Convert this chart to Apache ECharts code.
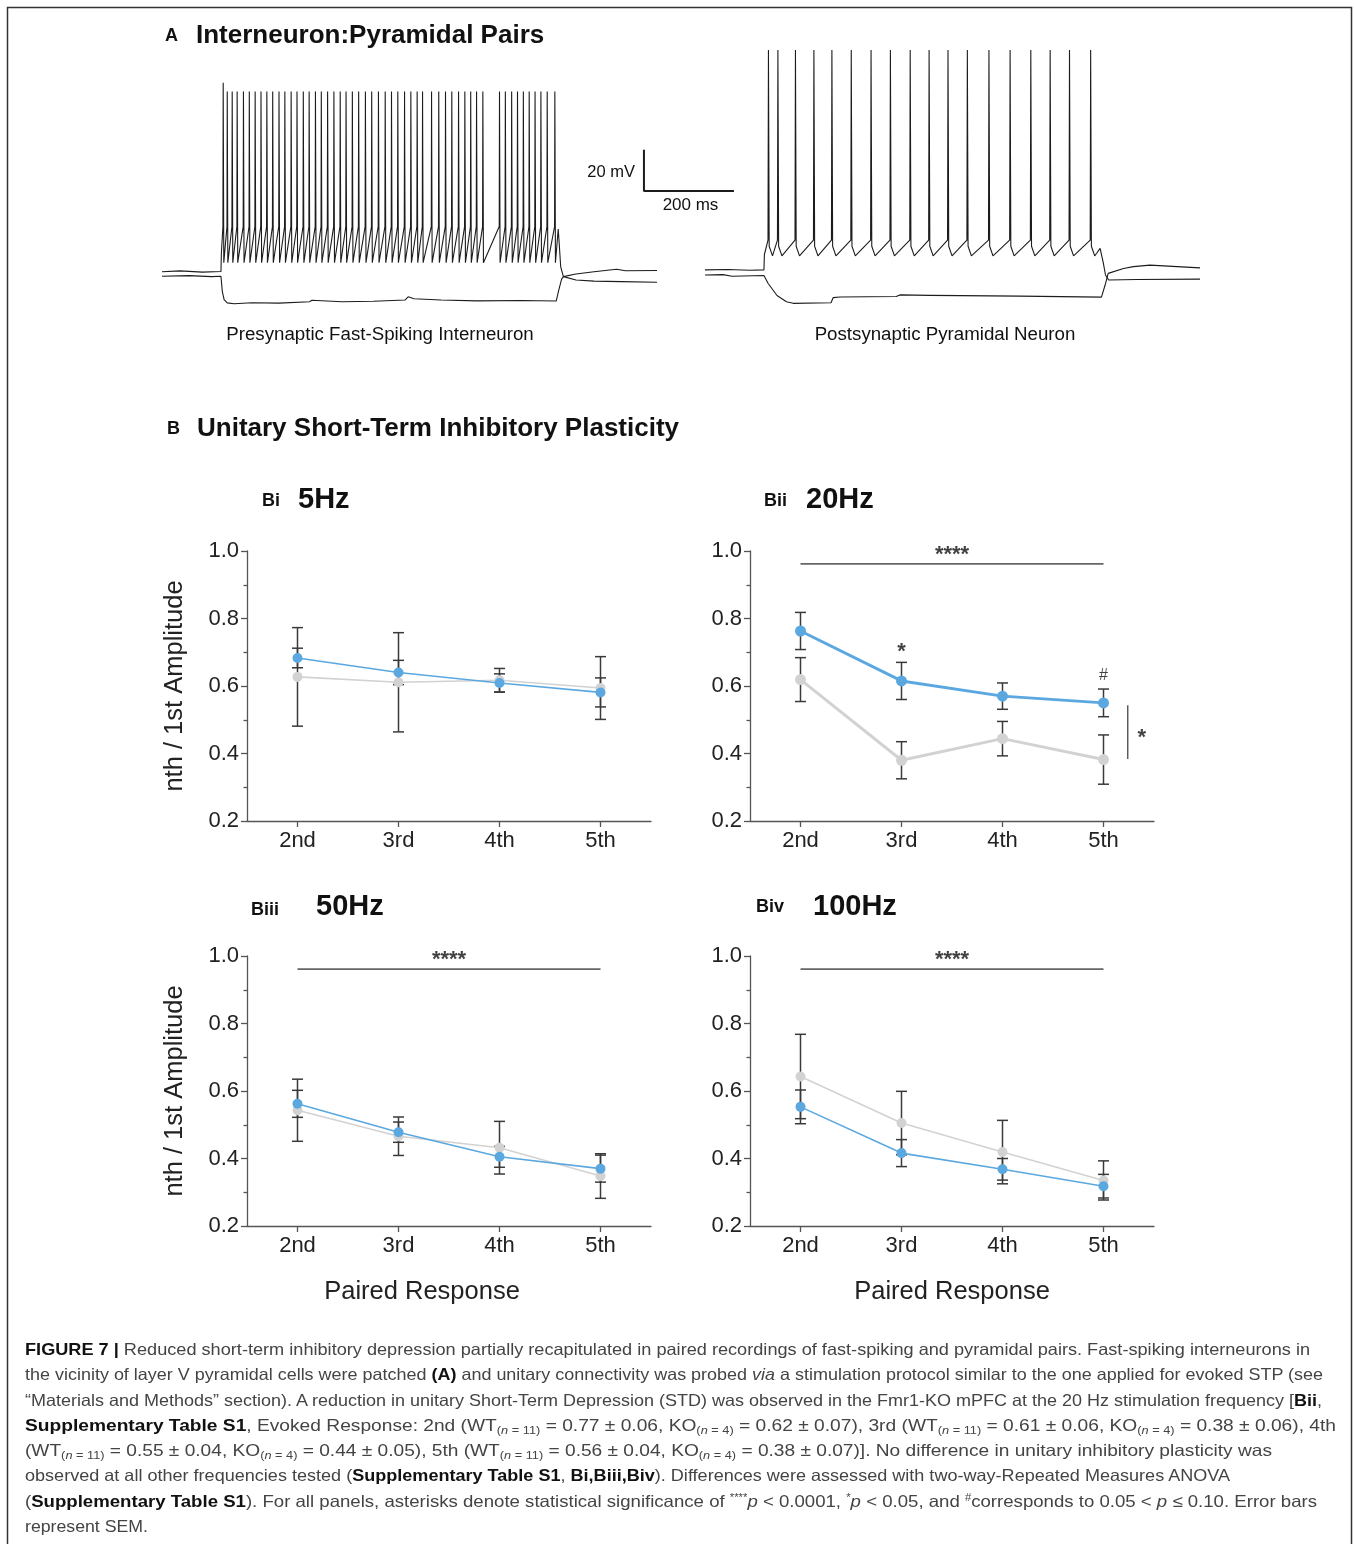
<!DOCTYPE html>
<html>
<head>
<meta charset="utf-8">
<title>Figure 7</title>
<script src="https://cdn.jsdelivr.net/npm/echarts@6/dist/echarts.min.js"></script>
<style>
  body { margin: 0; background: #fff; }
  #wrap { position: relative; width: 1354px; height: 1544px; overflow: hidden; }
  #chart { position: absolute; left: 0; top: 0; width: 1354px; height: 1544px; }
  #caption { position: absolute; left: 25px; top: 1337px; font-family: "Liberation Sans", Arial, sans-serif;
             font-size: 16.5px; line-height: 25.3px; color: #444; }
  #caption .ln { display: inline-block; white-space: nowrap; transform-origin: 0 50%; }
  #caption b { color: #111; }
  #caption sub { font-size: 11px; vertical-align: -3px; line-height: 0; }
  #caption sup { font-size: 10px; vertical-align: 6px; line-height: 0; }
</style>
</head>
<body>
<div id="wrap">
  <div id="chart"></div>
  <div id="caption">
    <div><span class="ln"><b>FIGURE 7 |</b> Reduced short-term inhibitory depression partially recapitulated in paired recordings of fast-spiking and pyramidal pairs. Fast-spiking interneurons in</span></div>
    <div><span class="ln">the vicinity of layer V pyramidal cells were patched <b>(A)</b> and unitary connectivity was probed <i>via</i> a stimulation protocol similar to the one applied for evoked STP (see</span></div>
    <div><span class="ln">“Materials and Methods” section). A reduction in unitary Short-Term Depression (STD) was observed in the Fmr1-KO mPFC at the 20 Hz stimulation frequency [<b>Bii</b>,</span></div>
    <div><span class="ln"><b>Supplementary Table S1</b>, Evoked Response: 2nd (WT<sub>(<i>n</i> = 11)</sub> = 0.77 ± 0.06, KO<sub>(<i>n</i> = 4)</sub> = 0.62 ± 0.07), 3rd (WT<sub>(<i>n</i> = 11)</sub> = 0.61 ± 0.06, KO<sub>(<i>n</i> = 4)</sub> = 0.38 ± 0.06), 4th</span></div>
    <div><span class="ln">(WT<sub>(<i>n</i> = 11)</sub> = 0.55 ± 0.04, KO<sub>(<i>n</i> = 4)</sub> = 0.44 ± 0.05), 5th (WT<sub>(<i>n</i> = 11)</sub> = 0.56 ± 0.04, KO<sub>(<i>n</i> = 4)</sub> = 0.38 ± 0.07)]. No difference in unitary inhibitory plasticity was</span></div>
    <div><span class="ln">observed at all other frequencies tested (<b>Supplementary Table S1</b>, <b>Bi,Biii,Biv</b>). Differences were assessed with two-way-Repeated Measures ANOVA</span></div>
    <div><span class="ln">(<b>Supplementary Table S1</b>). For all panels, asterisks denote statistical significance of <sup>****</sup><i>p</i> &lt; 0.0001, <sup>*</sup><i>p</i> &lt; 0.05, and <sup>#</sup>corresponds to 0.05 &lt; <i>p</i> ≤ 0.10. Error bars</span></div>
    <div><span class="ln">represent SEM.</span></div>
  </div>
</div>
<script>
var FONT = '"Liberation Sans", Arial, Helvetica, sans-serif';

// ---- panel A: traces (time in ms, voltage in mV)
var stepOn = 131, stepOff = 882;
var fsSpikes = [136, 145, 156, 167, 181, 194, 207, 220, 233, 246, 260, 273, 287, 300, 314, 327, 341, 354,
                368, 382, 396, 409, 423, 437, 452, 466, 481, 496, 510, 524, 539, 553, 567, 579,
                599, 615, 630, 644, 659, 673, 686, 699, 713,
                750, 763, 777, 790, 803, 816, 829, 842, 856, 873];
var fsPre = [[0, -64.4], [40, -64.0], [90, -64.6], [131, -64.3]];
var fsPost = [[876, -60], [880.5, -43.6], [882.5, -50], [886, -62], [892, -66.8], [920, -68.4],
              [960, -69], [1020, -69.2], [1100, -69.5]];
var fsHyper = [[0, -66.6], [60, -66.3], [110, -66.8], [131, -66.6], [134, -74], [138, -78], [145, -79.6],
               [160, -80], [200, -79.5], [260, -79.7], [328, -79], [333, -78.3], [400, -79], [470, -78.8],
               [540, -78.2], [547, -76.6], [560, -77.6], [620, -78.2], [700, -78.6], [800, -78.4],
               [876, -78.7], [881, -74], [888, -68], [892, -66.8], [920, -65.5], [960, -64.4],
               [1000, -63.4], [1010, -63.2], [1030, -63.9], [1100, -63.8]];
var fsShape = { onset: -55, thresh: -42.4, peak: 23.4, first: 27.7, trough: -60, rise: 0.6, fall: 1.3 };

var pyrSpikes = [141, 162, 201, 242, 282, 325, 369, 412, 456, 498, 540, 583, 631, 678, 724, 767, 810, 857];
var pyrPre = [[0, -63.5], [50, -63.3], [100, -63.7], [131, -63.5]];
var pyrPost = [[870, -55.5], [878, -53], [881.5, -53.5], [885, -60], [890, -66], [897, -68.4],
               [960, -68.2], [1100, -68]];
var pyrHyper = [[0, -66], [40, -65.8], [60, -66.6], [131, -66.2], [140, -70], [160, -76], [181, -79],
                [196, -79.8], [280, -79.5], [285, -77], [300, -76.7], [425, -76.5], [433, -75.7],
                [500, -75.9], [700, -76.3], [881, -76.8], [889, -71], [896, -65.2], [930, -62.8],
                [952, -61.9], [989, -61.2], [1100, -62.5]];
var pyrShape = { onset: -56, thresh: -49, peak: 43.7, first: 43.7, trough: -52, rise: 1, fall: 1.6,
                 dip: -56.7, dipAt: 9 };

// scale bar: 200 ms, 20 mV
var scaleBar = [[1071, -5], [1071, -25], [1271, -25]];

// ---- panel B: nth / 1st amplitude, mean and SEM
var cats = ['2nd', '3rd', '4th', '5th'];
var wt5 = [0.683, 0.640, 0.609, 0.581],   wt5Err = [0.029, 0.036, 0.027, 0.043];
var ko5 = [0.627, 0.611, 0.617, 0.594],   ko5Err = [0.146, 0.147, 0.035, 0.093];
var wt20 = [0.763, 0.615, 0.570, 0.550],  wt20Err = [0.055, 0.055, 0.039, 0.041];
var ko20 = [0.619, 0.380, 0.444, 0.382],  ko20Err = [0.065, 0.055, 0.051, 0.073];
var wt50 = [0.562, 0.478, 0.405, 0.370],  wt50Err = [0.040, 0.030, 0.031, 0.040];
var ko50 = [0.543, 0.466, 0.432, 0.348],  ko50Err = [0.092, 0.057, 0.078, 0.066];
var wt100 = [0.553, 0.416, 0.368, 0.318], wt100Err = [0.050, 0.040, 0.032, 0.035];
var ko100 = [0.643, 0.505, 0.419, 0.335], ko100Err = [0.125, 0.094, 0.094, 0.058];

// significance marks: [x (category position), y, text]
var sigBar = [null, 0.962, 0.961, 0.961];
var sigStars = [null, [1.5, 1.003, '****'], [1.5, 1.002, '****'], [1.5, 1.003, '****']];
var bii3rdStar = [1, 0.715, '*'];
var bii5thHash = [3, 0.635, '#'];
var biiGroupBar = [[3.24, 0.543], [3.24, 0.384]];
var biiGroupStar = [3.38, 0.461, '*'];

var BLUE = '#5ba8e0', GREY = '#d2d2d2', AXIS = '#555', INK = '#222';

function spikeTrain(pre, spikes, post, s) {
  var pts = pre.slice();
  pts.push([stepOn + 1, s.onset]);
  spikes.forEach(function (t, i) {
    pts.push([t - s.rise, s.thresh]);
    pts.push([t, i === 0 ? s.first : s.peak]);
    pts.push([t + s.fall, s.trough]);
    if (s.dip != null) pts.push([t + s.dipAt, s.dip]);
  });
  return pts.concat(post);
}

function traceSeries(idx, data, width) {
  return { type: 'line', xAxisIndex: idx, yAxisIndex: idx, data: data, symbol: 'none', silent: true,
           lineStyle: { color: '#1c1c1c', width: width || 1.1 }, animation: false };
}

function renderErr(params, api) {
  var lo = api.coord([api.value(0), api.value(1)]);
  var hi = api.coord([api.value(0), api.value(2)]);
  var w = 5.5, st = { stroke: '#3a3a3a', lineWidth: 1.5 };
  return { type: 'group', children: [
    { type: 'line', shape: { x1: lo[0], y1: lo[1], x2: hi[0], y2: hi[1] }, style: st },
    { type: 'line', shape: { x1: lo[0] - w, y1: lo[1], x2: lo[0] + w, y2: lo[1] }, style: st },
    { type: 'line', shape: { x1: hi[0] - w, y1: hi[1], x2: hi[0] + w, y2: hi[1] }, style: st }
  ] };
}

function errData(m, e) {
  return m.map(function (v, i) { return [i, v - e[i], v + e[i]]; });
}

var panels = [
  { wt: wt5,   wtErr: wt5Err,   ko: ko5,   koErr: ko5Err,   left: 247, top: 551, yName: true,  xName: false, lw: 1.6, sym: 10 },
  { wt: wt20,  wtErr: wt20Err,  ko: ko20,  koErr: ko20Err,  left: 750, top: 551, yName: false, xName: false, lw: 3,   sym: 11 },
  { wt: wt50,  wtErr: wt50Err,  ko: ko50,  koErr: ko50Err,  left: 247, top: 956, yName: true,  xName: true,  lw: 1.6, sym: 10, namePad: 54 },
  { wt: wt100, wtErr: wt100Err, ko: ko100, koErr: ko100Err, left: 750, top: 956, yName: false, xName: true,  lw: 1.6, sym: 10, namePad: 0 }
];

var grid = [
  { left: 162, top: 37, width: 580.5, height: 277 },
  { left: 705, top: 37, width: 495, height: 277 }
];
var xAxis = [
  { type: 'value', gridIndex: 0, min: 0, max: 1290, show: false },
  { type: 'value', gridIndex: 1, min: 0, max: 1100, show: false }
];
var yAxis = [
  { type: 'value', gridIndex: 0, min: -85, max: 50, show: false },
  { type: 'value', gridIndex: 1, min: -85, max: 50, show: false }
];
var series = [
  traceSeries(0, fsPre.concat([[stepOn, -64.3]]).concat(spikeTrain([], fsSpikes, fsPost, fsShape))),
  traceSeries(0, fsHyper),
  traceSeries(0, scaleBar, 2),
  traceSeries(1, spikeTrain(pyrPre, pyrSpikes, pyrPost, pyrShape)),
  traceSeries(1, pyrHyper)
];

function textMarks(xi, yi, item, size, weight, dy) {
  return { type: 'scatter', xAxisIndex: xi, yAxisIndex: yi, data: [item], symbolSize: 1, clip: false,
           silent: true, z: 5, itemStyle: { color: 'rgba(0,0,0,0)' },
           label: { show: true, position: 'inside', offset: [0, dy], color: '#111', fontFamily: FONT,
                    fontSize: size, fontWeight: weight, formatter: function (p) { return p.data[2]; } } };
}

panels.forEach(function (p, k) {
  var g = k + 2, xc = 2 + 2 * k, xv = 3 + 2 * k;
  grid.push({ left: p.left, top: p.top, width: 404, height: 270 });
  xAxis.push({
    type: 'category', gridIndex: g, data: cats, boundaryGap: true,
    axisLine: { show: true, onZero: false, lineStyle: { color: AXIS, width: 1.3 } },
    axisTick: { show: true, alignWithLabel: true, length: 6, lineStyle: { color: AXIS, width: 1.3 } },
    axisLabel: { color: INK, fontSize: 22, margin: 9, fontFamily: FONT },
    name: p.xName ? 'Paired Response' : '', nameLocation: 'middle', nameGap: 53,
    nameTextStyle: { fontSize: 25.5, color: INK, fontFamily: FONT, padding: [0, p.namePad || 0, 0, 0] }
  });
  xAxis.push({ type: 'value', gridIndex: g, min: -0.5, max: 3.5, show: false });
  yAxis.push({
    type: 'value', gridIndex: g, min: 0.2, max: 1.0, interval: 0.2,
    axisLine: { show: true, onZero: false, lineStyle: { color: AXIS, width: 1.3 } },
    axisTick: { show: true, length: 6, lineStyle: { color: AXIS, width: 1.3 } },
    minorTick: { show: true, splitNumber: 2, length: 3.5, lineStyle: { color: AXIS, width: 1.3 } },
    splitLine: { show: false }, minorSplitLine: { show: false },
    axisLabel: { color: INK, fontSize: 22, margin: 8, fontFamily: FONT,
                 formatter: function (v) { return v.toFixed(1); } },
    name: p.yName ? 'nth / 1st Amplitude' : '', nameLocation: 'middle', nameGap: 59, nameRotate: 90,
    nameTextStyle: { fontSize: 25.5, color: INK, fontFamily: FONT }
  });
  series.push({ type: 'custom', xAxisIndex: xc, yAxisIndex: g, z: 2, renderItem: renderErr,
                encode: { x: 0, y: [1, 2] }, data: errData(p.ko, p.koErr), silent: true });
  series.push({ type: 'custom', xAxisIndex: xc, yAxisIndex: g, z: 2, renderItem: renderErr,
                encode: { x: 0, y: [1, 2] }, data: errData(p.wt, p.wtErr), silent: true });
  series.push({ type: 'line', name: 'KO', xAxisIndex: xc, yAxisIndex: g, z: 3, data: p.ko,
                symbol: 'circle', symbolSize: p.sym, showSymbol: true, silent: true,
                lineStyle: { color: GREY, width: p.lw }, itemStyle: { color: GREY } });
  series.push({ type: 'line', name: 'WT', xAxisIndex: xc, yAxisIndex: g, z: 4, data: p.wt,
                symbol: 'circle', symbolSize: p.sym, showSymbol: true, silent: true,
                lineStyle: { color: BLUE, width: p.lw }, itemStyle: { color: BLUE } });
  if (sigBar[k] != null) {
    series.push({ type: 'line', xAxisIndex: xv, yAxisIndex: g, data: [[0, sigBar[k]], [3, sigBar[k]]],
                  symbol: 'none', silent: true, clip: false, lineStyle: { color: '#666', width: 1.6 } });
    series.push(textMarks(xv, g, sigStars[k], 22, 'bold', 5));
  }
  if (k === 1) {
    series.push(textMarks(xv, g, bii3rdStar, 22, 'bold', 5));
    series.push(textMarks(xv, g, bii5thHash, 16, 'normal', 1));
    series.push(textMarks(xv, g, biiGroupStar, 22, 'bold', 5));
    series.push({ type: 'line', xAxisIndex: xv, yAxisIndex: g, data: biiGroupBar, symbol: 'none',
                  silent: true, clip: false, lineStyle: { color: '#555', width: 1.4 } });
  }
});

function txt(x, y, s, size, weight, align) {
  return { type: 'text', x: x, y: y, silent: true,
           style: { text: s, fontSize: size, fontWeight: weight || 'normal', fontFamily: FONT, fill: '#111',
                    align: align || 'left', textAlign: align || 'left',
                    verticalAlign: 'middle', textVerticalAlign: 'middle' } };
}

var graphic = [
  { type: 'rect', silent: true, shape: { x: 7.5, y: 7.5, width: 1344, height: 1560 },
    style: { fill: 'none', stroke: '#333', lineWidth: 1.5 } },
  txt(165, 36, 'A', 18, 'bold'),
  txt(196, 36, 'Interneuron:Pyramidal Pairs', 26, 'bold'),
  txt(635, 172, '20 mV', 16.5, 'normal', 'right'),
  txt(690.5, 205, '200 ms', 17, 'normal', 'center'),
  txt(380, 335, 'Presynaptic Fast-Spiking Interneuron', 18.7, 'normal', 'center'),
  txt(945, 335, 'Postsynaptic Pyramidal Neuron', 18.7, 'normal', 'center'),
  txt(167, 429, 'B', 18, 'bold'),
  txt(197, 429, 'Unitary Short-Term Inhibitory Plasticity', 26, 'bold'),
  txt(262, 501, 'Bi', 18, 'bold'),
  txt(298, 500, '5Hz', 29, 'bold'),
  txt(764, 501, 'Bii', 18, 'bold'),
  txt(806, 500, '20Hz', 29, 'bold'),
  txt(251, 910, 'Biii', 18, 'bold'),
  txt(316, 907, '50Hz', 29, 'bold'),
  txt(756, 907, 'Biv', 18, 'bold'),
  txt(813, 907, '100Hz', 29, 'bold')
];

var chart = echarts.init(document.getElementById('chart'));
chart.setOption({
  animation: false,
  backgroundColor: '#fff',
  grid: grid,
  xAxis: xAxis,
  yAxis: yAxis,
  series: series,
  graphic: graphic
});

// fit caption lines to the measured line lengths of the reference
var lineEnds = [1310, 1323, 1322, 1336, 1272, 1230, 1317, 148];
document.querySelectorAll('#caption .ln').forEach(function (el, i) {
  var w = el.getBoundingClientRect().width;
  el.style.transform = 'scaleX(' + ((lineEnds[i] - 25) / w).toFixed(4) + ')';
});
</script>
</body>
</html>
